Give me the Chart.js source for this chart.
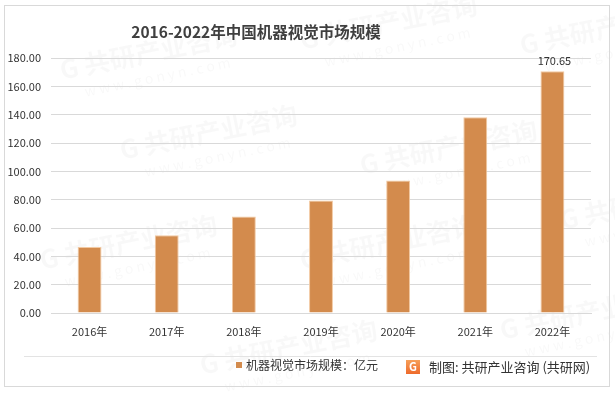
<!DOCTYPE html>
<html><head><meta charset="utf-8">
<script src="https://cdn.jsdelivr.net/npm/chart.js@4/dist/chart.umd.min.js"></script>
<style>html,body{margin:0;padding:0;background:#fff;}#wrap{width:615px;height:393px;}</style>
</head><body><div id="wrap"><canvas id="c" width="615" height="393"></canvas></div>
<script>
const categories = ['2016年', '2017年', '2018年', '2019年', '2020年', '2021年', '2022年'];
const marketSize = [46.6, 54.8, 68.2, 79.5, 93.6, 138.1, 170.65];
const yTickValues = [0, 20, 40, 60, 80, 100, 120, 140, 160, 180];
const labeledIndices = [6];
const titleText = '2016-2022年中国机器视觉市场规模';
const legendText = '机器视觉市场规模：亿元';
const sourceText = '制图: 共研产业咨询 (共研网)';
const watermarkText = '共研产业咨询';
const watermarkUrl = 'w w w . g o n y n . c o m';

const FONT = '"Noto Sans CJK SC", "Noto Sans", sans-serif';
const TEXT = '#333333';
const BAR = '#D38B4D';
const BAR_EDGE = '#F2C9A2';

const decorPlugin = {
  id: 'decor',
  beforeDraw(chart) {
    const ctx = chart.ctx;
    ctx.save();
    ctx.fillStyle = '#fff';
    ctx.fillRect(0, 0, chart.width, chart.height);
    const spots = [[60,70],[300,40],[520,45],[120,150],[360,165],[560,220],[40,260],[300,260],[500,330],[200,365]];
    ctx.fillStyle = 'rgba(0,0,0,0.028)';
    for (const [x, y] of spots) {
      ctx.save();
      ctx.translate(x, y);
      ctx.rotate(-0.2);
      ctx.font = 'bold 26px ' + FONT;
      ctx.textBaseline = 'middle';
      ctx.fillText('G ' + watermarkText, 0, 0);
      ctx.font = '14px ' + FONT;
      ctx.fillText(watermarkUrl, 20, 26);
      ctx.restore();
    }
    ctx.restore();
  },
  afterDraw(chart) {
    const ctx = chart.ctx;
    ctx.save();
    ctx.strokeStyle = '#d9d9d9';
    ctx.lineWidth = 1;
    ctx.strokeRect(4.5, 5.5, 605, 381);
    ctx.strokeStyle = '#e3e3e3';
    ctx.beginPath();
    ctx.moveTo(24, 356.5);
    ctx.lineTo(597, 356.5);
    ctx.stroke();
    ctx.fillStyle = '#3f3f3f';
    ctx.font = 'bold 15.5px ' + FONT;
    ctx.textAlign = 'center';
    ctx.textBaseline = 'middle';
    ctx.fillText(titleText, 256, 32);
    const meta = chart.getDatasetMeta(0);
    ctx.fillStyle = TEXT;
    ctx.font = '11px ' + FONT;
    ctx.textBaseline = 'bottom';
    for (const i of labeledIndices) {
      const el = meta.data[i];
      ctx.fillText(marketSize[i].toFixed(2), el.x + 2, el.y - 5);
    }
    ctx.fillStyle = BAR;
    ctx.fillRect(236, 362, 6, 6);
    ctx.fillStyle = TEXT;
    ctx.font = '12px ' + FONT;
    ctx.textAlign = 'left';
    ctx.textBaseline = 'middle';
    ctx.fillText(legendText, 246, 365);
    const g = ctx.createLinearGradient(406, 359, 406, 374);
    g.addColorStop(0, '#F7A35C');
    g.addColorStop(1, '#EE6A2B');
    ctx.fillStyle = g;
    ctx.fillRect(406, 360, 14, 14);
    ctx.fillStyle = '#fff';
    ctx.font = 'bold 11px ' + FONT;
    ctx.textAlign = 'center';
    ctx.fillText('G', 413, 367);
    ctx.fillStyle = '#333';
    ctx.font = '13px ' + FONT;
    ctx.textAlign = 'left';
    ctx.fillText(sourceText, 429, 367);
    ctx.restore();
  }
};

new Chart(document.getElementById('c'), {
  type: 'bar',
  data: {
    labels: categories,
    datasets: [{
      label: legendText,
      data: marketSize,
      backgroundColor: BAR,
      borderColor: BAR_EDGE,
      borderWidth: 1,
      barPercentage: 0.31,
      categoryPercentage: 1.0
    }]
  },
  options: {
    responsive: false,
    animation: false,
    devicePixelRatio: 1,
    layout: { padding: { left: 4, right: 24, top: 58, bottom: 0 } },
    plugins: { legend: { display: false }, title: { display: false }, tooltip: { enabled: false } },
    scales: {
      x: {
        grid: { display: false, drawTicks: false },
        border: { display: true, color: '#d9d9d9' },
        ticks: { color: TEXT, font: { family: FONT, size: 11 }, padding: 12, maxRotation: 0 },
        afterFit(scale) { scale.height = 80; }
      },
      y: {
        min: 0,
        max: 180,
        afterBuildTicks(scale) { scale.ticks = yTickValues.map(v => ({ value: v })); },
        grid: { color: '#d9d9d9', drawTicks: false },
        border: { display: false },
        ticks: { color: TEXT, font: { family: FONT, size: 11 }, padding: 10, callback: v => Number(v).toFixed(2) },
        afterFit(scale) { scale.width = 47; }
      }
    }
  },
  plugins: [decorPlugin]
});
</script>
</body></html>
